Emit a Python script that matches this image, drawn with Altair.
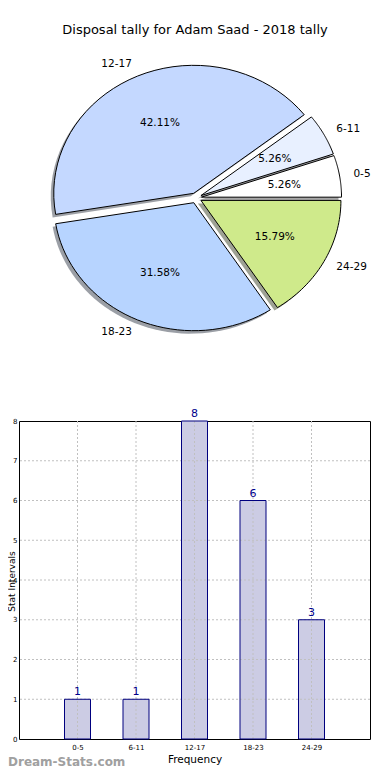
import altair as alt
import pandas as pd

# ---------------- data ----------------
title_text = "Disposal tally for Adam Saad - 2018 tally"
categories = ["0-5", "6-11", "12-17", "18-23", "24-29"]
counts = [1, 1, 8, 6, 3]
y_ticks = [0, 1, 2, 3, 4, 5, 6, 7, 8]
x_title = "Frequency"
y_title = "Stat Intervals"
watermark = "Dream-Stats.com"

pie_colors = ["#ffffff", "#e8f0ff", "#c4d8ff", "#b7d4ff", "#cfea8b"]
shadow_colors = ["#4d4d4d", "#46484d", "#3b414d", "#37404d", "#3e462a"]

# ---------------- layout (pixels, relative to bar plot origin) ----------------
W, H = 351, 318
CX, CY = 177, -223
RX, RY = 140, 128
EXPL = 0.04
N = 40
FONT = "DejaVu Sans"

df = pd.DataFrame({"cat": categories, "count": counts, "idx": list(range(len(categories)))})

base = (
    alt.Chart(df)
    .transform_window(cum="sum(count)", sort=[alt.SortField("idx")])
    .transform_joinaggregate(total="sum(count)")
    .transform_calculate(
        a1="2*PI*(datum.cum-datum.count)/datum.total",
        a2="2*PI*datum.cum/datum.total",
    )
    .transform_calculate(am="(datum.a1+datum.a2)/2")
    .transform_calculate(
        ox=f"{CX}+{EXPL * RX}*cos(datum.am)",
        oy=f"{CY}-{EXPL * RY}*sin(datum.am)",
    )
)

poly = (
    base.transform_calculate(k=f"sequence(0, {N + 3})")
    .transform_flatten(["k"])
    .transform_calculate(ang=f"datum.a1+(datum.a2-datum.a1)*clamp((datum.k-1)/{N},0,1)")
    .transform_calculate(
        px=f"(datum.k==0 || datum.k=={N + 2}) ? datum.ox : datum.ox+{RX}*cos(datum.ang)",
        py=f"(datum.k==0 || datum.k=={N + 2}) ? datum.oy : datum.oy-{RY}*sin(datum.ang)",
    )
    .transform_calculate(sx="datum.px-3", sy="datum.py+3")
)

shadow = poly.mark_line(strokeOpacity=0, fillOpacity=0.5).encode(
    x=alt.X("sx:Q", scale=None, axis=None),
    y=alt.Y("sy:Q", scale=None, axis=None),
    order=alt.Order("k:Q"),
    fill=alt.Fill("cat:N", scale=alt.Scale(domain=categories, range=shadow_colors), legend=None),
)

slices = poly.mark_line(stroke="black", strokeWidth=1, strokeJoin="miter").encode(
    x=alt.X("px:Q", scale=None, axis=None),
    y=alt.Y("py:Q", scale=None, axis=None),
    order=alt.Order("k:Q"),
    fill=alt.Fill("cat:N", scale=alt.Scale(domain=categories, range=pie_colors), legend=None),
)

lab = base.transform_calculate(
    lx=f"datum.ox+{1.1 * RX}*cos(datum.am)",
    ly=f"datum.oy-{1.1 * RY}*sin(datum.am)",
    qx=f"datum.ox+{0.6 * RX}*cos(datum.am)",
    qy=f"datum.oy-{0.6 * RY}*sin(datum.am)",
    pct="format(100*datum.count/datum.total, '.2f') + '%'",
)
lab_enc = dict(
    x=alt.X("lx:Q", scale=None, axis=None),
    y=alt.Y("ly:Q", scale=None, axis=None),
    text="cat:N",
)
lab_right = lab.transform_filter("cos(datum.am) >= 0").mark_text(
    align="left", baseline="middle", font=FONT, fontSize=10.5, color="black"
).encode(**lab_enc)
lab_left = lab.transform_filter("cos(datum.am) < 0").mark_text(
    align="right", baseline="middle", font=FONT, fontSize=10.5, color="black"
).encode(**lab_enc)
pct_text = lab.mark_text(
    align="center", baseline="middle", font=FONT, fontSize=10.5, color="black"
).encode(
    x=alt.X("qx:Q", scale=None, axis=None),
    y=alt.Y("qy:Q", scale=None, axis=None),
    text="pct:N",
)

title = alt.Chart(pd.DataFrame({"t": [title_text]})).mark_text(
    font=FONT, fontSize=13, color="black", align="center", baseline="middle"
).encode(x=alt.value(176), y=alt.value(-391), text="t:N")

wm = alt.Chart(pd.DataFrame({"t": [watermark]})).mark_text(
    font=FONT, fontSize=12, fontWeight="bold", color="#a0a0a0", align="left", baseline="alphabetic"
).encode(x=alt.value(-11), y=alt.value(345), text="t:N")

pie = alt.layer(shadow, slices, lab_right, lab_left, pct_text, title, wm).resolve_scale(fill="independent")

# ---------------- bar chart ----------------
bar_df = pd.DataFrame({"cat": categories, "count": counts})
xscale = alt.Scale(type="point", padding=1)
yscale = alt.Scale(domain=[0, 8], nice=False)
xenc = alt.X(
    "cat:N",
    sort=categories,
    scale=xscale,
    axis=alt.Axis(
        title=x_title, labelAngle=0, grid=False, ticks=False, domain=False,
        labelFontSize=7, labelPadding=4, labelColor="black", labelFont=FONT,
        titleFont=FONT, titleFontSize=10.5, titleFontWeight="normal", titleColor="black",
        titleY=23, titleBaseline="alphabetic",
    ),
)
yenc = alt.Y(
    "count:Q",
    scale=yscale,
    axis=alt.Axis(
        title=y_title, values=y_ticks, grid=False, ticks=False, domain=False,
        labelFontSize=7, labelPadding=2, labelColor="black", labelFont=FONT,
        titleFont=FONT, titleFontSize=9, titleFontWeight="normal", titleColor="black",
        titleX=-5, titleY=160, titleAngle=270, titleBaseline="alphabetic", titleAlign="center",
    ),
)
grid_color = "#c0c0c0"
bar_fill = alt.Chart(bar_df).mark_bar(size=26, fill="#ccccE4", strokeOpacity=0).encode(
    x=xenc, y=yenc
)
ygrid = alt.Chart(pd.DataFrame({"count": y_ticks[1:-1]})).mark_rule(
    color=grid_color, strokeDash=[2, 2], strokeWidth=1
).encode(y=yenc)
xgrid = alt.Chart(pd.DataFrame({"cat": categories})).mark_rule(
    color=grid_color, strokeDash=[2, 2], strokeWidth=1
).encode(x=xenc)
bar_edge = alt.Chart(bar_df).mark_bar(size=26, fillOpacity=0, stroke="#00007f", strokeWidth=1).encode(
    x=xenc, y=yenc
)
bar_labels = alt.Chart(bar_df).mark_text(
    color="#00008b", font=FONT, fontSize=11, baseline="alphabetic", dy=-4
).encode(x=xenc, y=yenc, text="count:Q")

barchart = alt.layer(bar_fill, ygrid, xgrid, bar_edge, bar_labels)

chart = (
    alt.layer(pie, barchart)
    .resolve_scale(x="independent", y="independent")
    .properties(
        width=W, height=H,
        autosize=alt.AutoSizeParams(type="none"),
        padding={"left": 11, "top": 413, "right": 12, "bottom": 32},
    )
    .configure_view(stroke="black", strokeWidth=1)
)

chart.save("out.html", embed_options={"renderer": "svg", "actions": False})
